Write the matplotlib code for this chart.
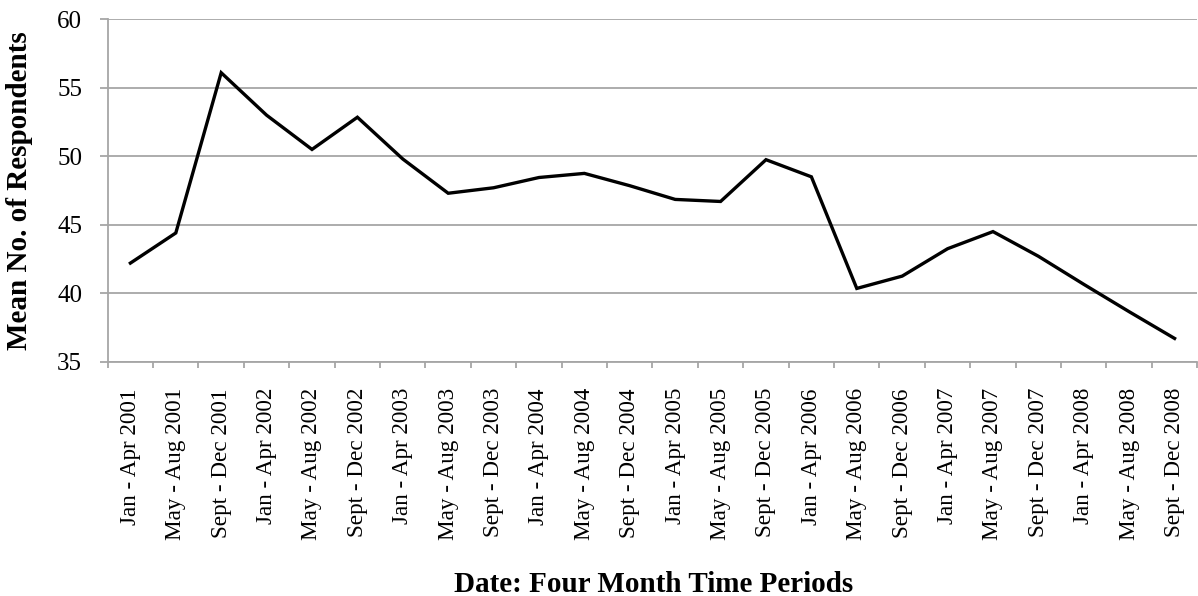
import numpy as np
import matplotlib
matplotlib.use('Agg')
import matplotlib.pyplot as plt

# four month periods, 2001 - 2008
periods = ['Jan - Apr 2001', 'May - Aug 2001', 'Sept - Dec 2001',
           'Jan - Apr 2002', 'May - Aug 2002', 'Sept - Dec 2002',
           'Jan - Apr 2003', 'May - Aug 2003', 'Sept - Dec 2003',
           'Jan - Apr 2004', 'May - Aug 2004', 'Sept - Dec 2004',
           'Jan - Apr 2005', 'May - Aug 2005', 'Sept - Dec 2005',
           'Jan - Apr 2006', 'May - Aug 2006', 'Sept - Dec 2006',
           'Jan - Apr 2007', 'May - Aug 2007', 'Sept - Dec 2007',
           'Jan - Apr 2008', 'May - Aug 2008', 'Sept - Dec 2008']
mean_respondents = [42.2, 44.4, 56.1, 53.0, 50.5, 52.85, 49.8, 47.3, 47.7,
                    48.45, 48.75, 47.85, 46.85, 46.7, 49.75, 48.5, 40.35,
                    41.25, 43.25, 44.5, 42.7, 40.65, 38.65, 36.7]
y_ticks = [35, 40, 45, 50, 55, 60]

plt.rcParams['font.family'] = ['Liberation Serif', 'DejaVu Serif']
grid_col = '#a6a6a6'

fig = plt.figure(figsize=(11.98, 5.96), dpi=100)
ax = fig.add_axes([0.0899, 0.3931, 0.9095, 0.5745])

x = np.arange(len(periods))
ax.plot(x, mean_respondents, color='black', lw=2.4, solid_joinstyle='miter')

ax.set_xlim(-0.5, len(periods) - 0.5)
ax.set_ylim(35, 60)
ax.set_yticks(y_ticks)
ax.yaxis.grid(True, color=grid_col, lw=1.3)
ax.set_axisbelow(True)

# category boundaries get tick marks, centres get the labels
ax.set_xticks(np.arange(-0.5, len(periods)), minor=False)
ax.set_xticklabels([])
ax.set_xticks(x, minor=True)
ax.set_xticklabels(periods, minor=True, rotation=90, fontsize=16.7)
ax.tick_params(axis='x', which='major', length=4, color=grid_col, width=1.3)
ax.tick_params(axis='x', which='minor', length=0, pad=19)
ax.tick_params(axis='y', length=6, color=grid_col, width=1.3, pad=12.5, labelsize=18)

for side in ['top', 'right']:
    ax.spines[side].set_visible(False)
for side in ['left', 'bottom']:
    ax.spines[side].set_color(grid_col)
    ax.spines[side].set_linewidth(1.3)

ax.set_ylabel('Mean No. of Respondents', fontsize=21, fontweight='bold')
ax.yaxis.set_label_coords(-0.0685, 0.5)
fig.text(0.5455, 0.0075, 'Date: Four Month Time Periods', fontsize=21,
         fontweight='bold', ha='center', va='baseline')

fig.savefig('out.png', dpi=100)
